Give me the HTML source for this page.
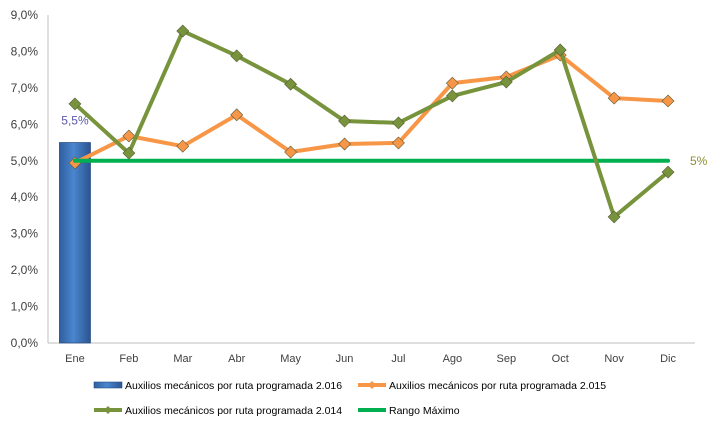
<!DOCTYPE html>
<html><head><meta charset="utf-8"><style>
html,body{margin:0;padding:0;background:#fff;}
svg{display:block;font-family:"Liberation Sans",sans-serif;}
</style></head><body>
<svg id="chart" width="711" height="428" viewBox="0 0 711 428" xmlns="http://www.w3.org/2000/svg">
<defs>
<linearGradient id="barGrad" x1="0" x2="1" y1="0" y2="0">
<stop offset="0" stop-color="#2f5e9e"/><stop offset="0.45" stop-color="#4a86cf"/><stop offset="1" stop-color="#2b5590"/>
</linearGradient>
</defs>
<g id="axes"></g>
<g id="marks"></g>
<g id="legend"></g>
</svg>
<script>
const categories = ["Ene","Feb","Mar","Abr","May","Jun","Jul","Ago","Sep","Oct","Nov","Dic"];
const yTicks = [0,1,2,3,4,5,6,7,8,9];
const yTickLabels = ["0,0%","1,0%","2,0%","3,0%","4,0%","5,0%","6,0%","7,0%","8,0%","9,0%"];
const bars2016 = [5.5];
const bar2016Labels = ["5,5%"];
const series2015 = [4.94,5.68,5.4,6.26,5.24,5.46,5.49,7.13,7.3,7.9,6.72,6.64];
const series2014 = [6.56,5.21,8.56,7.88,7.1,6.09,6.04,6.78,7.16,8.04,3.46,4.69];
const rangoMaximo = [5,5,5,5,5,5,5,5,5,5,5,5];
const rangoLabel = "5%";

(function(){
const NS="http://www.w3.org/2000/svg";
const plotLeft=48,plotRight=695,plotTop=15,plotBottom=343;
const step=(plotRight-plotLeft)/categories.length;
function xs(i){return plotLeft+step*(i+0.5);}
function ys(v){return plotBottom-(v/9)*(plotBottom-plotTop);}
function mk(tag,attrs,parent,text){const e=document.createElementNS(NS,tag);for(const k in attrs)e.setAttribute(k,attrs[k]);if(text!==undefined)e.textContent=text;parent.appendChild(e);return e;}
const axes=document.getElementById('axes'),marks=document.getElementById('marks'),legend=document.getElementById('legend');

let yl=mk('line',{x1:plotLeft,y1:plotTop,x2:plotLeft,y2:plotBottom,stroke:'#bfbfbf','stroke-width':1},axes);


let xl=mk('line',{x1:plotLeft,y1:plotBottom,x2:plotRight,y2:plotBottom,stroke:'#bfbfbf','stroke-width':1},axes);


yTicks.forEach((t,i)=>{
  let tx=mk('text',{x:38,y:ys(t)+4,'text-anchor':'end','font-size':12,fill:'#404040'},axes,yTickLabels[i]);
  
  
});
categories.forEach((c,i)=>{
  let tx=mk('text',{x:xs(i),y:362,'text-anchor':'middle','font-size':11,fill:'#404040'},axes,c);
  
  
});

bars2016.forEach((v,i)=>{
  const bw=31;
  let r=mk('rect',{x:xs(i)-bw/2,y:ys(v),width:bw,height:plotBottom-ys(v),fill:'url(#barGrad)',stroke:'#2a4f85','stroke-width':0.8},marks);
  
  
  let t=mk('text',{x:xs(i),y:ys(v)-18,'text-anchor':'middle','font-size':12,fill:'#5a5aa8'},marks,bar2016Labels[i]);
  
  
});

function drawLine(vals,color,w,name,markerColor){
  const pts=vals.map((v,i)=>xs(i)+','+ys(v)).join(' ');
  let p=mk('polyline',{points:pts,fill:'none',stroke:color,'stroke-width':w,'stroke-linejoin':'round','stroke-linecap':'round'},marks);
  
  
  if(markerColor){vals.forEach((v,i)=>{
    const cx=xs(i),cy=ys(v),s=6;
    let d=mk('polygon',{points:cx+','+(cy-s)+' '+(cx+s)+','+cy+' '+cx+','+(cy+s)+' '+(cx-s)+','+cy,fill:markerColor,stroke:'#5a5a3a','stroke-width':0.6},marks);
    
    
  });}
}
drawLine(series2015,'#f79646',4,'series-2015','#f79646');
drawLine(rangoMaximo,'#00b050',4,'rango-maximo',null);
drawLine(series2014,'#77933c',4,'series-2014','#77933c');
let rl=mk('text',{x:690,y:ys(rangoMaximo[11])+4,'font-size':12,fill:'#8e8e2e'},marks,rangoLabel);



function legendEntry(lx,ly,kind,color,label,name){
  const g=mk('g',{},legend);
  
  
  if(kind==='bar'){mk('rect',{x:lx,y:ly-3,width:28,height:6,fill:'url(#barGrad)',stroke:'#2a4f85','stroke-width':0.6},g);}
  else{mk('line',{x1:lx,y1:ly,x2:lx+28,y2:ly,stroke:color,'stroke-width':4},g);
    if(kind==='marker')mk('polygon',{points:(lx+14)+','+(ly-4)+' '+(lx+18)+','+ly+' '+(lx+14)+','+(ly+4)+' '+(lx+10)+','+ly,fill:color},g);}
  mk('text',{x:lx+31,y:ly+4,'font-size':10.5,fill:'#000'},g,label);
}
legendEntry(94,385,'bar','#4a86cf','Auxilios mecánicos por ruta programada 2.016','legend-entry-2016');
legendEntry(358,385,'marker','#f79646','Auxilios mecánicos por ruta programada 2.015','legend-entry-2015');
legendEntry(94,410,'marker','#77933c','Auxilios mecánicos por ruta programada 2.014','legend-entry-2014');
legendEntry(358,410,'line','#00b050','Rango Máximo','legend-entry-rango-maximo');
})();
</script>
</body></html>
